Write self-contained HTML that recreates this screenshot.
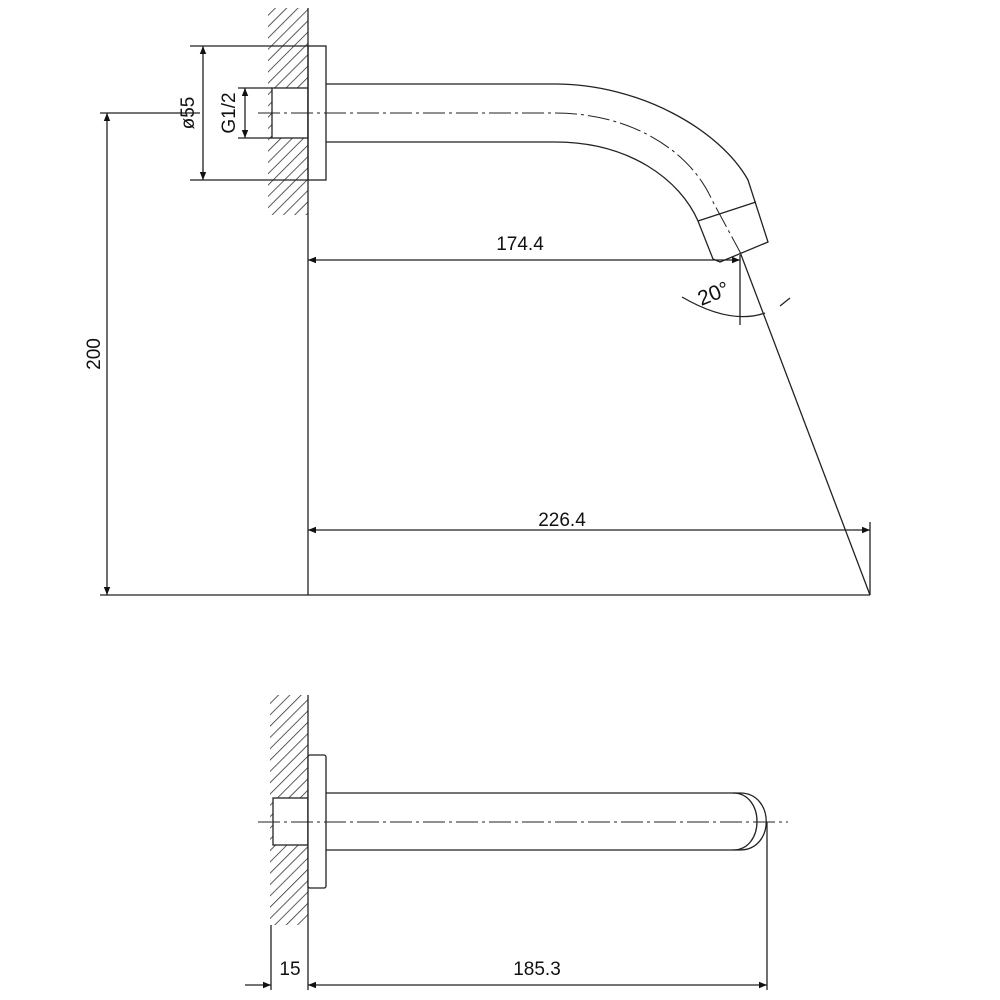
<!DOCTYPE html>
<html><head><style>body{margin:0;background:#fff}svg{display:block}text{font-family:"Liberation Sans",sans-serif;fill:#111}</style></head>
<body>
<svg width="1000" height="1000" viewBox="0 0 1000 1000" xmlns="http://www.w3.org/2000/svg">
<defs>
<pattern id="h" width="8" height="8" patternUnits="userSpaceOnUse" patternTransform="rotate(45)">
<line x1="0" y1="0" x2="0" y2="8" stroke="#333" stroke-width="1.6"/>
</pattern>
<marker id="a" viewBox="0 0 10 10" refX="10" refY="5" markerWidth="14" markerHeight="8" orient="auto-start-reverse" markerUnits="userSpaceOnUse"><path d="M0,1 L10,5 L0,9 Z" fill="#111"/></marker>
</defs>
<g fill="none" stroke="#222" stroke-width="1.3">
<!-- TOP VIEW -->
<rect x="268" y="8" width="40" height="207" fill="url(#h)" stroke="none"/>
<rect x="272" y="88" width="36" height="50" fill="#fff" stroke="#222"/>
<rect x="308" y="46" width="18" height="134" fill="#fff"/>
<line x1="308" y1="8" x2="308" y2="595"/>
<path d="M326,84 L555,84 C640,84 720,130 748,180 L768,242 L720,262 L713,259 L698,221 C680,180 630,142 555,142 L326,142"/>
<line x1="698" y1="221" x2="756" y2="202"/>
<path d="M258,113 L555,113 C630,113 690,150 712,200 L740,252" stroke-dasharray="22,4,3,4" stroke-width="1"/>
<!-- dims -->
<line x1="190" y1="46" x2="308" y2="46"/><line x1="190" y1="180" x2="308" y2="180"/>
<line x1="203" y1="46" x2="203" y2="180" marker-start="url(#a)" marker-end="url(#a)"/>
<line x1="238" y1="88" x2="272" y2="88"/><line x1="238" y1="138" x2="272" y2="138"/>
<line x1="245" y1="88" x2="245" y2="138" marker-start="url(#a)" marker-end="url(#a)"/>
<line x1="100" y1="113" x2="200" y2="113"/>
<line x1="100" y1="595" x2="870" y2="595"/>
<line x1="107" y1="113" x2="107" y2="595" marker-start="url(#a)" marker-end="url(#a)"/>
<line x1="308" y1="260" x2="740" y2="260" marker-start="url(#a)" marker-end="url(#a)"/>
<line x1="740" y1="252" x2="870" y2="595"/>
<line x1="740" y1="255" x2="740" y2="325"/>
<path d="M682,297 Q730,325 765,313"/>
<line x1="780" y1="306" x2="790" y2="298"/>
<line x1="308" y1="530" x2="870" y2="530" marker-start="url(#a)" marker-end="url(#a)"/>
<line x1="870" y1="522" x2="870" y2="595"/>
<!-- BOTTOM VIEW -->
<rect x="270" y="695" width="38" height="230" fill="url(#h)" stroke="none"/>
<rect x="273" y="798" width="35" height="47" fill="#fff" stroke="#222"/>
<line x1="308" y1="695" x2="308" y2="990"/>
<rect x="308" y="755" width="18" height="133" rx="2" fill="#fff"/>
<path d="M326,793 L740,793 C775,793 775,850 740,850 L326,850"/>
<path d="M733,793 C765,793 765,850 733,850"/>
<line x1="258" y1="822" x2="788" y2="822" stroke-dasharray="22,4,3,4" stroke-width="1"/>
<line x1="271" y1="925" x2="271" y2="990"/>
<line x1="767" y1="822" x2="767" y2="990"/>
<line x1="245" y1="985" x2="271" y2="985" marker-end="url(#a)"/>
<line x1="308" y1="985" x2="767" y2="985" marker-start="url(#a)" marker-end="url(#a)"/>
</g>
<text x="520" y="250" font-size="19" text-anchor="middle">174.4</text>
<text x="562" y="526" font-size="19" text-anchor="middle">226.4</text>
<text x="290" y="975" font-size="19" text-anchor="middle">15</text>
<text x="537" y="975" font-size="19" text-anchor="middle">185.3</text>
<text transform="translate(100,354) rotate(-90)" font-size="19" text-anchor="middle">200</text>
<text transform="translate(194,113) rotate(-90)" font-size="19" text-anchor="middle">ø55</text>
<text transform="translate(235,113) rotate(-90)" font-size="19" text-anchor="middle">G1/2</text>
<text transform="translate(716,300) rotate(-22)" font-size="21" text-anchor="middle">20°</text>
</svg>
</body></html>
